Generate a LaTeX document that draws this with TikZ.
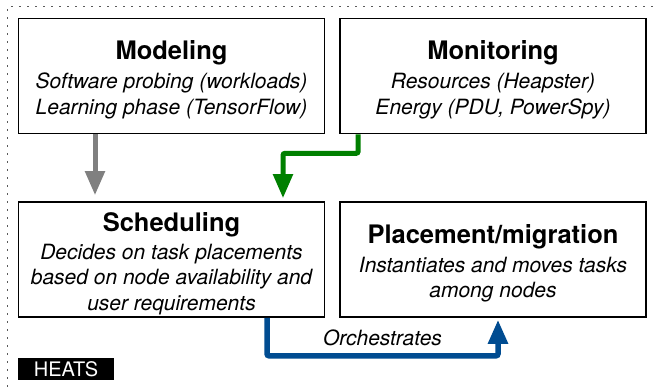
\documentclass[tikz,border=0pt]{standalone}
\usepackage{fontspec}
\setmainfont{TeX Gyre Heros}
\usetikzlibrary{arrows.meta}

\definecolor{modelgray}{RGB}{128,128,128}
\definecolor{monitorgreen}{RGB}{0,128,0}
\definecolor{orchblue}{RGB}{0,76,145}

\newcommand{\stagetitle}{\fontsize{25.5}{29}\selectfont\upshape\bfseries}
\newcommand{\stagetext}{\fontsize{21}{25.5}\selectfont\itshape}

\tikzset{
  stage/.style={draw, line width=1.6pt, minimum width=306pt, minimum height=115pt,
    inner sep=0pt, align=center, font=\stagetext},
  stagelabel/.style={align=center, font=\stagetext},
  flow/.style={line width=5pt, rounded corners=2pt, -{Triangle[width=19pt,length=24pt]}},
}

\begin{document}
\begin{tikzpicture}[x=1pt,y=1pt]
  \useasboundingbox (0,0) rectangle (659,387);
  \draw[gray!70!black, line width=1pt, dash pattern=on 2pt off 6pt] (7,0) -- (7,380) -- (659,380);

  % text sits a little below the middle of each box
  \node[stage] (modeling) at (171.5,311) {};
  \node[stagelabel] (modelingtext) at ([yshift=-4pt]modeling.center) {{\stagetitle Modeling}\\[3.5pt]Software probing (workloads)\\Learning phase (TensorFlow)};
  \node[stage] (monitoring) at (493,311) {};
  \node[stagelabel] (monitoringtext) at ([yshift=-4pt]monitoring.center) {{\stagetitle Monitoring}\\[3.5pt]Resources (Heapster)\\Energy (PDU, PowerSpy)};
  \node[stage] (scheduling) at (171.5,127.5) {};
  \node[stagelabel] (schedulingtext) at ([yshift=-4pt]scheduling.center) {{\stagetitle Scheduling}\\[2.5pt]Decides on task placements\\based on node availability and\\user requirements};
  \node[stage] (placement) at (493,127.5) {};
  \node[stagelabel] (placementtext) at ([yshift=-4pt]placement.center) {{\stagetitle Placement/migration}\\[3.5pt]Instantiates and moves tasks\\among nodes};

  \draw[flow, modelgray, shorten >=6pt] ([xshift=-76.5pt]modeling.south) -- ([xshift=-76.5pt]scheduling.north);
  \draw[flow, monitorgreen, shorten >=3pt] ([xshift=19pt]monitoring.south west) -- ++(0,-19) -| ([xshift=111.5pt]scheduling.north);
  \draw[flow, orchblue, line width=5.5pt, shorten >=2pt] ([xshift=95.5pt]scheduling.south) -- ++(0,-38)
    -| node[pos=0.25, above=3.5pt, text=black, font=\stagetext] (orchlabel) {Orchestrates} ([xshift=5pt]placement.south);

  \node[fill=black, text=white, minimum width=96pt, minimum height=22pt, inner sep=0pt,
    font=\fontsize{20}{22}\selectfont] (heats) at (66,18) {HEATS};
\end{tikzpicture}
\end{document}
